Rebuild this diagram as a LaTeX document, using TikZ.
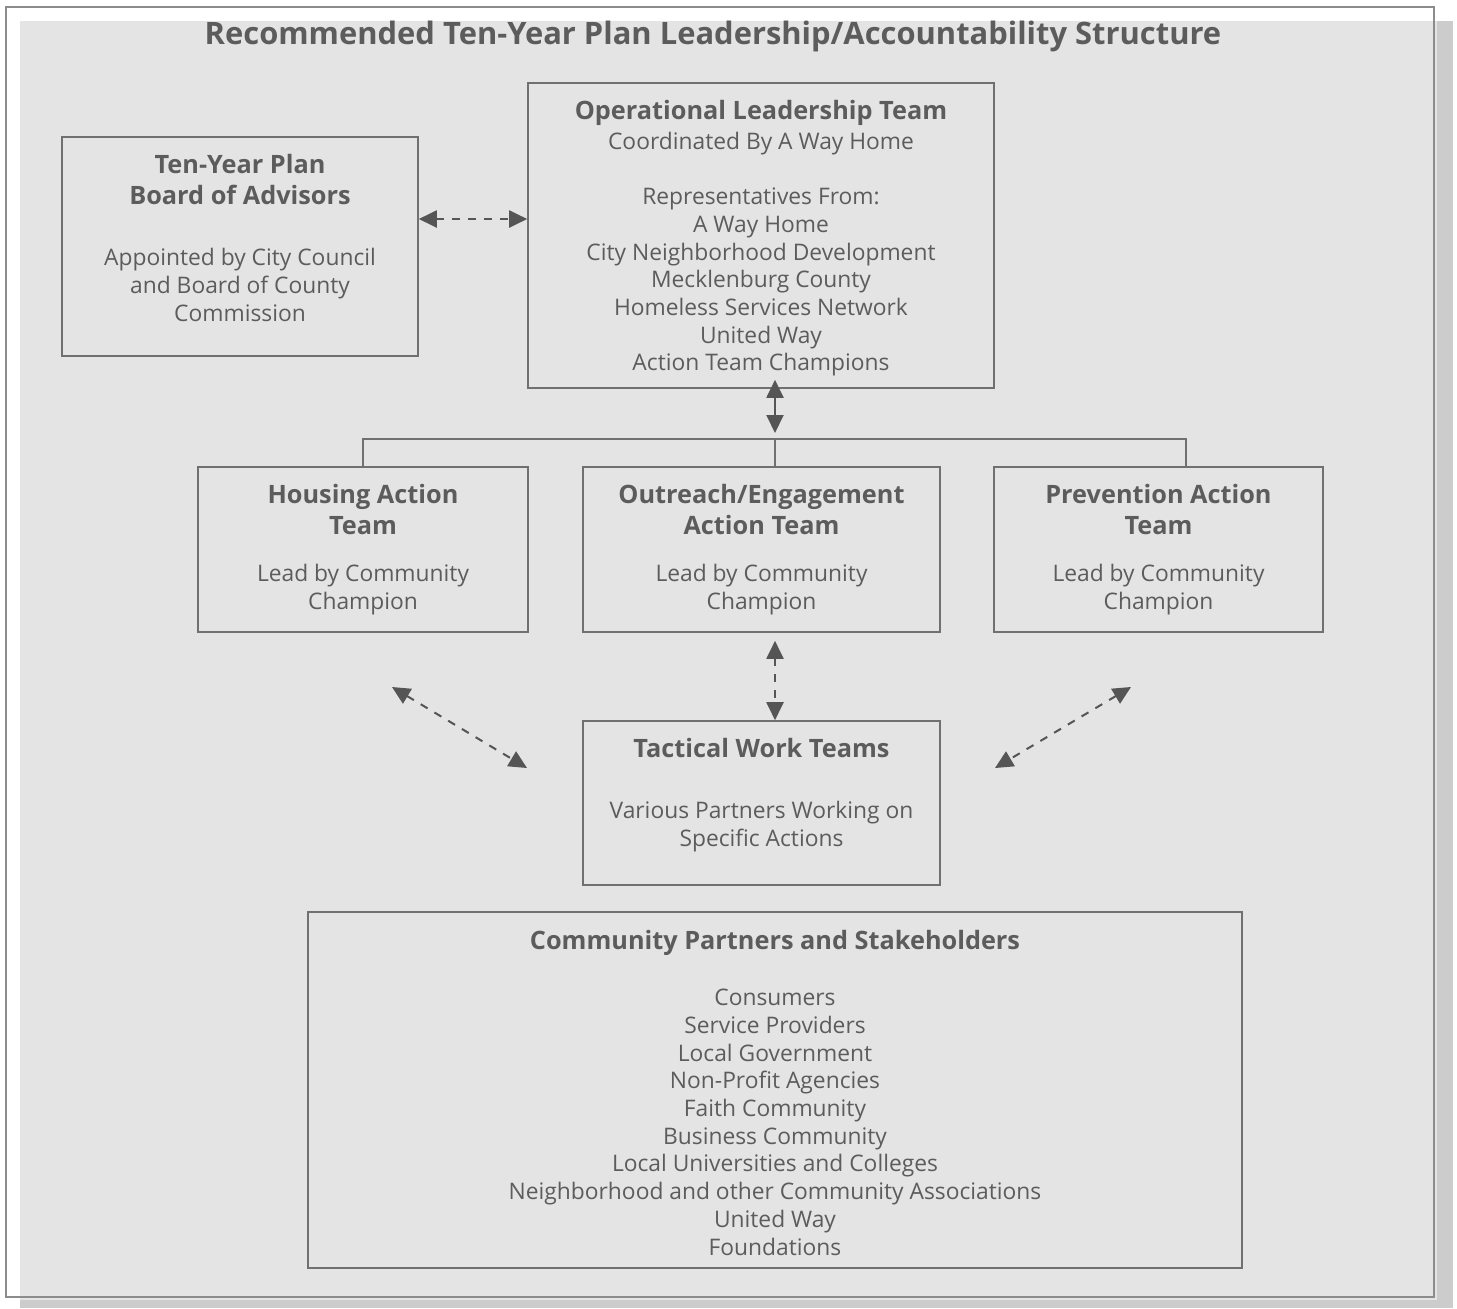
\documentclass[tikz,border=0pt]{standalone}
\usepackage{fontspec}
\setmainfont{Open Sans}
\usetikzlibrary{arrows.meta}

\definecolor{panel}{RGB}{228,228,228}
\definecolor{dropgray}{RGB}{204,204,204}
\definecolor{frame}{RGB}{140,140,140}
\definecolor{ink}{RGB}{92,92,92}
\definecolor{rule}{RGB}{112,112,112}
\definecolor{tip}{RGB}{85,85,85}

\newcommand{\hd}{\bfseries\fontsize{12.65}{14.2}\selectfont}
\newcommand{\bd}{\mdseries\fontsize{11.4}{13.85}\selectfont}

\begin{document}
\begin{tikzpicture}[x=0.5pt, y=-0.5pt,
	box/.style={draw=rule, line width=0.8pt, rectangle, inner sep=0pt},
	txt/.style={text=ink, align=center, anchor=north, inner sep=0pt, font=\bd},
	both/.style={tip, line width=1pt, {Triangle[length=9pt,width=8.5pt]}-{Triangle[length=9pt,width=8.5pt]}},
	dashlink/.style={both, dash pattern=on 4pt off 4pt}]
	\useasboundingbox (0,0) rectangle (1457,1308);
	% background panel
	\fill[dropgray] (20,21) rectangle (1453,1308);
	\fill[panel] (20,21) rectangle (1437,1300);
	\draw[frame, line width=0.9pt] (6,7) rectangle (1434,1297);
	\node (title) at (713,36.5) [text=ink, font=\bfseries\fontsize{15.45}{19}\selectfont] {Recommended Ten-Year Plan Leadership/Accountability Structure};

	% boxes
	\node (board) at (240,246.5) [box, minimum width=178pt, minimum height=109.5pt] {};
	\node (olt) at (761,235.5) [box, minimum width=233pt, minimum height=152.5pt] {};
	\node (housing) at (363,549.5) [box, minimum width=165pt, minimum height=82.5pt] {};
	\node (outreach) at (761.5,549.5) [box, minimum width=178.5pt, minimum height=82.5pt] {};
	\node (prevention) at (1158.5,549.5) [box, minimum width=164.5pt, minimum height=82.5pt] {};
	\node (tactical) at (761.5,803) [box, minimum width=178.5pt, minimum height=82pt] {};
	\node (community) at (775,1090) [box, minimum width=467pt, minimum height=178pt] {};

	% texts
	\node (board-text) at ([yshift=-9pt]board.north) [txt] {\hd Ten-Year Plan\\[1.6pt]\hd Board of Advisors\\[16.6pt]\bd Appointed by City Council\\and Board of County\\Commission};
	\node (olt-text) at ([yshift=-9pt]olt.north) [txt] {\hd Operational Leadership Team\\[1.1pt]\bd Coordinated By A Way Home\\[13.6pt]Representatives From:\\A Way Home\\City Neighborhood Development\\Mecklenburg County\\Homeless Services Network\\United Way\\Action Team Champions};
	\node (housing-text) at ([yshift=-9pt]housing.north) [txt] {\hd Housing Action\\[1.6pt]\hd Team\\[9.6pt]\bd Lead by Community\\Champion};
	\node (outreach-text) at ([yshift=-9pt]outreach.north) [txt] {\hd Outreach/Engagement\\[1.6pt]\hd Action Team\\[9.6pt]\bd Lead by Community\\Champion};
	\node (prevention-text) at ([yshift=-9pt]prevention.north) [txt] {\hd Prevention Action\\[1.6pt]\hd Team\\[9.6pt]\bd Lead by Community\\Champion};
	\node (tactical-text) at ([yshift=-9pt]tactical.north) [txt] {\hd Tactical Work Teams\\[16.6pt]\bd Various Partners Working on\\Specific Actions};
	\node (community-text) at ([yshift=-9.5pt]community.north) [txt] {\hd Community Partners and Stakeholders\\[14.1pt]\bd Consumers\\Service Providers\\Local Government\\Non-Profit Agencies\\Faith Community\\Business Community\\Local Universities and Colleges\\Neighborhood and other Community Associations\\United Way\\Foundations};

	% connectors
	\coordinate (bus) at (775,439);
	\coordinate (bus-right) at (1186,439);
	\coordinate (left-up) at (392,687);
	\coordinate (left-down) at (527,768);
	\coordinate (right-up) at (1131,687);
	\coordinate (right-down) at (995,768);
	\draw[dashlink] (board.east |- 0,219) -- (olt.west |- 0,219);
	\draw[both] ([yshift=4.5pt]olt.south -| bus) -- ([yshift=3pt]bus);
	\draw[rule, line width=0.8pt] (housing.north) |- (bus-right) -- (bus-right |- prevention.north);
	\draw[rule, line width=0.8pt] (bus) -- (bus |- outreach.north);
	\draw[dashlink] ([yshift=-4pt]outreach.south -| bus) -- (tactical.north -| bus);
	\draw[dashlink] (left-up) -- (left-down);
	\draw[dashlink] (right-up) -- (right-down);
\end{tikzpicture}
\end{document}
